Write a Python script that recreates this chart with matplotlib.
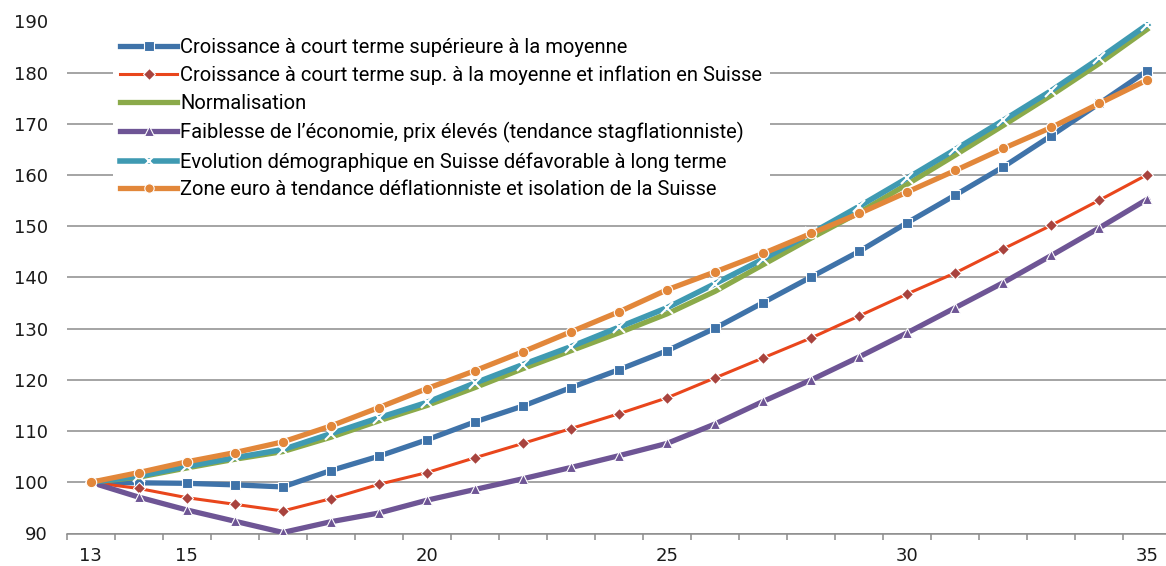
import matplotlib.pyplot as plt
import numpy as np

# Scenario index paths (base 100), years 13..35
years = np.arange(13, 36)

croissance = [100, 99.9, 99.8, 99.5, 99.1, 102.3, 105.1, 108.3, 111.8, 114.9, 118.5, 122.0,
              125.7, 130.1, 135.1, 140.1, 145.1, 150.7, 156.1, 161.6, 167.7, 174.0, 180.4]
croissance_inflation = [100, 98.8, 97.0, 95.7, 94.4, 96.8, 99.6, 101.9, 104.8, 107.6, 110.5, 113.4,
                        116.5, 120.4, 124.3, 128.2, 132.5, 136.8, 140.9, 145.6, 150.2, 155.1, 160.1]
normalisation = [100, 101.0, 102.8, 104.5, 106.0, 108.8, 112.0, 115.0, 118.5, 122.2, 125.7, 129.2,
                 132.9, 137.3, 142.5, 147.7, 152.7, 158.2, 163.9, 169.7, 175.6, 181.8, 188.5]
stagflation = [100, 97.1, 94.6, 92.4, 90.2, 92.3, 94.0, 96.5, 98.6, 100.7, 102.9, 105.2,
               107.6, 111.4, 115.8, 120.0, 124.5, 129.2, 134.1, 139.0, 144.3, 149.7, 155.3]
demographie = [100, 101.2, 103.1, 104.8, 106.4, 109.5, 112.6, 115.6, 119.4, 123.0, 126.5, 130.3,
               134.1, 138.8, 143.6, 148.6, 153.9, 159.4, 165.0, 170.7, 176.5, 182.8, 189.4]
deflation = [100, 101.9, 104.0, 105.8, 107.9, 111.0, 114.6, 118.3, 121.8, 125.5, 129.4, 133.3,
             137.6, 141.1, 144.7, 148.6, 152.5, 156.7, 160.9, 165.2, 169.3, 174.0, 178.6]

labels = [
    "Croissance à court terme supérieure à la moyenne",
    "Croissance à court terme sup. à la moyenne et inflation en Suisse",
    "Normalisation",
    "Faiblesse de l’économie, prix élevés (tendance stagflationniste)",
    "Evolution démographique en Suisse défavorable à long terme",
    "Zone euro à tendance déflationniste et isolation de la Suisse",
]
xtick_labels = [13, 15, 20, 25, 30, 35]

plt.rcParams['font.family'] = ['Roboto', 'DejaVu Sans']

W, H = 1166, 566
fig = plt.figure(figsize=(W / 100, H / 100), dpi=100)
# axes run slightly past the right edge of the figure
left, right, top, bottom = 66.7, 1171.4, 21.5, 533.5
ax = fig.add_axes([left / W, 1 - bottom / H, (right - left) / W, (bottom - top) / H])

ax.plot(years, croissance, color='#3F73A9', lw=3.8, marker='s', ms=7.5,
        mfc='#3F73A9', mec='white', mew=0.8, label=labels[0], zorder=3)
ax.plot(years, croissance_inflation, color='#E9461C', lw=2.2, marker='D', ms=6.5,
        mfc='#A8433E', mec='white', mew=0.8, label=labels[1], zorder=4)
ax.plot(years, normalisation, color='#8BAA4A', lw=3.8, label=labels[2], zorder=5)
ax.plot(years, stagflation, color='#6E5595', lw=3.8, marker='^', ms=7.5,
        mfc='#6E5595', mec='white', mew=0.8, label=labels[3], zorder=6)
ax.plot(years, demographie, color='#3F9AB2', lw=4.0, marker='x', ms=9,
        mec='white', mew=1.5, label=labels[4], zorder=7)
ax.plot(years, deflation, color='#E2873A', lw=3.8, marker='o', ms=7.5,
        mfc='#E2873A', mec='white', mew=0.8, label=labels[5], zorder=8)

ax.set_xlim(12.5, 35.5)
ax.set_ylim(90, 190)
ax.set_yticks(np.arange(90, 191, 10))
ax.set_xticks(xtick_labels)
ax.set_xticks(np.arange(12.5, 35.6, 1), minor=True)

grid_color = '#8C8C8C'
ax.grid(axis='y', color=grid_color, lw=1.1, zorder=1)
ax.set_axisbelow(True)
for side in ['left', 'right', 'top']:
    ax.spines[side].set_visible(False)
ax.spines['bottom'].set_color(grid_color)
ax.spines['bottom'].set_linewidth(1.1)

ax.tick_params(axis='y', length=0, pad=13.5, labelsize=13, labelcolor='#1a1a1a',
               labelfontfamily='DejaVu Sans')
ax.tick_params(axis='x', which='major', length=0, pad=10, labelsize=13, labelcolor='#1a1a1a',
               labelfontfamily='DejaVu Sans')
ax.tick_params(axis='x', which='minor', length=4, width=1.1, color=grid_color, direction='out')

leg = ax.legend(loc='upper left', bbox_to_anchor=(113 / W, 1 - 31 / H),
                bbox_transform=fig.transFigure, fontsize=14.5, frameon=True,
                handlelength=2.85, handletextpad=0.15, labelspacing=0.44,
                borderpad=0.35, borderaxespad=0, markerscale=0.9)
leg.get_frame().set_facecolor('white')
leg.get_frame().set_edgecolor('none')
leg.get_frame().set_alpha(1)
leg.set_zorder(10)

fig.savefig('out.png', dpi=100)
